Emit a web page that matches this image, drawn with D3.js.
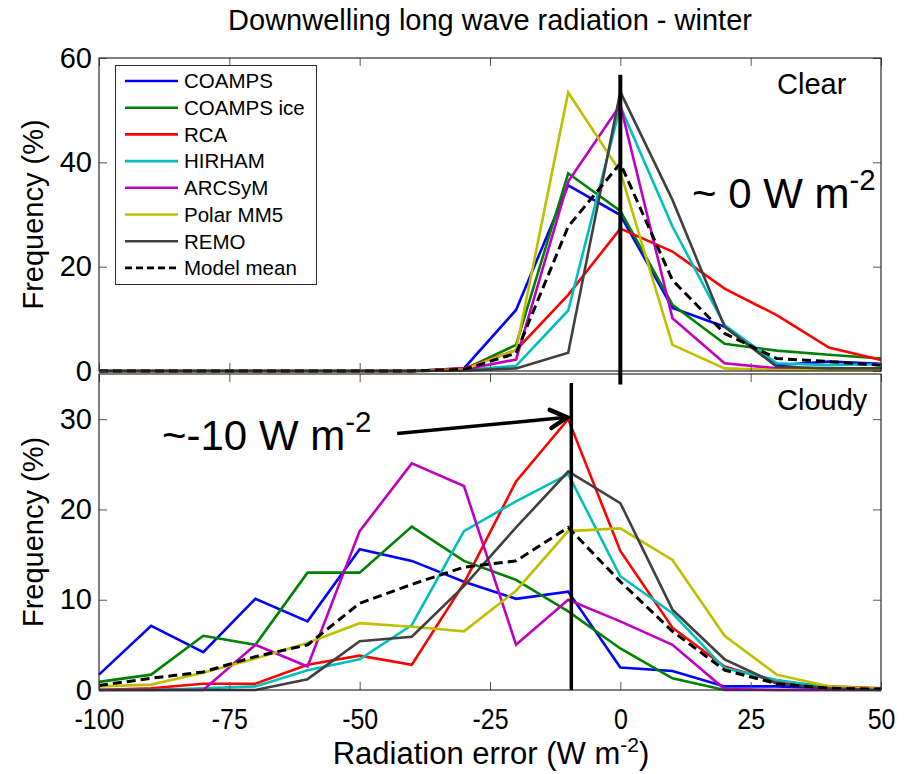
<!DOCTYPE html>
<html>
<head>
<meta charset="utf-8">
<script src="https://cdn.jsdelivr.net/npm/d3@7"></script>
<style>
  body { margin: 0; background: #fff; }
  text { font-family: "Liberation Sans", Arial, sans-serif; fill: #000; }
</style>
</head>
<body>
<svg id="chart" width="912" height="774"></svg>
<script>
// Bin centres of the radiation error (W m-2)
const errorBins = [-100, -90, -80, -70, -60, -50, -40, -30, -20, -10, 0, 10, 20, 30, 40, 50];

const modelNames = ["COAMPS", "COAMPS ice", "RCA", "HIRHAM", "ARCSyM", "Polar MM5", "REMO", "Model mean"];
const modelColors = ["#0000ff", "#008000", "#ff0000", "#00bfbf", "#bf00bf", "#bfbf00", "#404040", "#000000"];

// Clear sky frequencies (%)
const clearCOAMPS    = [0, 0, 0, 0, 0, 0, 0, 0.5, 11.7, 35.6, 29.9, 12.1, 8.5, 1.1, 1.8, 1.4];
const clearCOAMPSice = [0, 0, 0, 0, 0, 0, 0, 0.3, 5.0, 37.9, 30.7, 12.7, 5.2, 3.9, 3.1, 2.4];
const clearRCA       = [0, 0, 0, 0, 0, 0, 0, 0.5, 4.0, 14.6, 27.3, 22.9, 15.8, 10.7, 4.5, 2.1];
const clearHIRHAM    = [0, 0, 0, 0, 0, 0, 0, 0.2, 1.0, 11.6, 50.7, 27.7, 8.8, 1.5, 1.1, 1.3];
const clearARCSyM    = [0, 0, 0, 0, 0, 0, 0, 0.3, 2.2, 36.3, 51.0, 10.1, 1.5, 0.5, 0.3, 0.3];
const clearPolarMM5  = [0, 0, 0, 0, 0, 0, 0, 0.3, 4.0, 53.4, 38.2, 5.0, 0.5, 0.2, 0.2, 0.2];
const clearREMO      = [0, 0, 0, 0, 0, 0, 0, 0.1, 0.5, 3.5, 53.5, 32.8, 8.5, 0.8, 0.5, 0.5];
const clearMean      = [0, 0, 0, 0, 0, 0, 0, 0.3, 3.4, 27.7, 39.8, 17.4, 7.2, 2.4, 1.8, 1.1];

// Cloudy sky frequencies (%)
const cloudyCOAMPS    = [1.7, 7.1, 4.2, 10.1, 7.6, 15.6, 14.3, 12.0, 10.1, 10.9, 2.5, 2.1, 0.4, 0.4, 0.2, 0.1];
const cloudyCOAMPSice = [0.9, 1.7, 6.0, 5.0, 13.0, 13.0, 18.1, 14.3, 12.2, 8.7, 4.6, 1.3, 0, 0, 0, 0];
const cloudyRCA       = [0, 0.2, 0.7, 0.7, 2.8, 3.8, 2.8, 11.8, 23.1, 30.0, 15.4, 6.9, 2.6, 0.9, 0.4, 0.2];
const cloudyHIRHAM    = [0, 0, 0.2, 0.4, 2.2, 3.4, 7.2, 17.6, 20.9, 23.9, 12.6, 8.5, 2.4, 1.1, 0.3, 0.1];
const cloudyARCSyM    = [0, 0, 0, 5.0, 2.6, 17.6, 25.1, 22.6, 5.0, 10.0, 7.6, 5.0, 0.1, 0, 0, 0];
const cloudyPolarMM5  = [0.4, 0.6, 1.9, 3.5, 5.2, 7.4, 7.0, 6.5, 11.0, 17.6, 17.9, 14.4, 6.0, 1.7, 0.4, 0.1];
const cloudyREMO      = [0, 0, 0, 0, 1.2, 5.4, 5.9, 11.5, 18.0, 24.2, 20.7, 8.9, 3.4, 0.7, 0.2, 0];
const cloudyMean      = [0.5, 1.3, 2.0, 3.7, 5.0, 9.6, 11.7, 13.6, 14.3, 18.0, 12.0, 6.5, 2.2, 0.7, 0.2, 0.1];

// Axis ticks
const xTicks = [-100, -75, -50, -25, 0, 25, 50];
const clearYTicks = [0, 20, 40, 60];
const cloudyYTicks = [0, 10, 20, 30];

// Reference lines marking the peak of each distribution (W m-2)
const clearPeak = 0;
const cloudyPeak = -9.4;

const svg = d3.select("#chart");

const x = d3.scaleLinear().domain([-100, 50]).range([99, 881]);
const yClear = d3.scaleLinear().domain([0, 60]).range([371, 58]);
const yCloudy = d3.scaleLinear().domain([0, 35]).range([690, 374]);

const panels = [
  { y: yClear, ticks: clearYTicks, series: [clearCOAMPS, clearCOAMPSice, clearRCA, clearHIRHAM, clearARCSyM, clearPolarMM5, clearREMO, clearMean], label: "Clear", bottomLabels: false },
  { y: yCloudy, ticks: cloudyYTicks, series: [cloudyCOAMPS, cloudyCOAMPSice, cloudyRCA, cloudyHIRHAM, cloudyARCSyM, cloudyPolarMM5, cloudyREMO, cloudyMean], label: "Cloudy", bottomLabels: true }
];

const [x0, x1] = x.range();
const plainNumber = d => String(d);

panels.forEach(p => {
  const [yb, yt] = p.y.range();
  const g = svg.append("g");

  g.append("rect").attr("x", x0).attr("y", yt).attr("width", x1 - x0).attr("height", yb - yt)
    .attr("fill", "#fff");

  // data lines
  const line = d3.line().x(d => x(d[0])).y(d => p.y(d[1]));
  p.series.forEach((vals, i) => {
    g.append("path")
      .datum(errorBins.map((b, k) => [b, vals[k]]))
      .attr("d", line)
      .attr("fill", "none")
      .attr("stroke", modelColors[i])
      .attr("stroke-width", i === 7 ? 3 : 2.6)
      .attr("stroke-linejoin", "miter")
      .attr("stroke-dasharray", i === 7 ? "9,5" : null);
  });

  // axes with inward ticks
  const styleAxis = sel => {
    sel.select(".domain").remove();
    sel.selectAll(".tick line").attr("stroke", "#555").attr("stroke-width", 1);
    sel.selectAll("text").style("font-size", "29px").attr("fill", "#000");
  };
  g.append("g").attr("transform", `translate(${x0},0)`)
    .call(d3.axisLeft(p.y).tickValues(p.ticks).tickSize(-8).tickPadding(7).tickFormat(plainNumber))
    .call(styleAxis);
  g.append("g").attr("transform", `translate(${x1},0)`)
    .call(d3.axisRight(p.y).tickValues(p.ticks).tickSize(-8).tickFormat(""))
    .call(styleAxis);
  g.append("g").attr("transform", `translate(0,${yt})`)
    .call(d3.axisTop(x).tickValues(xTicks).tickSize(-8).tickFormat(""))
    .call(styleAxis);
  const bottomAxis = g.append("g").attr("transform", `translate(0,${yb})`)
    .call(d3.axisBottom(x).tickValues(xTicks).tickSize(-8).tickPadding(18)
      .tickFormat(p.bottomLabels ? plainNumber : ""))
    .call(styleAxis);
  // condensed x tick labels
  bottomAxis.selectAll(".tick text").attr("transform", "scale(0.86,1)");

  g.append("rect").attr("x", x0).attr("y", yt).attr("width", x1 - x0).attr("height", yb - yt)
    .attr("fill", "none").attr("stroke", "#2a2a2a").attr("stroke-width", 1.2);

  // panel label
  g.append("text").attr("x", 777).attr("y", yt + 36).style("font-size", "29px").text(p.label);

  // y axis title
  g.append("text")
    .attr("transform", `translate(43,${(yb + yt) / 2}) rotate(-90)`)
    .attr("text-anchor", "middle")
    .style("font-size", "29px")
    .text("Frequency (%)");
});

// peak markers
svg.append("line")
  .attr("x1", x(clearPeak)).attr("x2", x(clearPeak))
  .attr("y1", yClear(56.8)).attr("y2", yClear(-2.6))
  .attr("stroke", "#000").attr("stroke-width", 4);
svg.append("line")
  .attr("x1", x(cloudyPeak)).attr("x2", x(cloudyPeak))
  .attr("y1", yCloudy(34)).attr("y2", yCloudy(0))
  .attr("stroke", "#000").attr("stroke-width", 3.5);

// annotation text with superscripts
function annot(xp, yp, main, sup, size) {
  const t = svg.append("text").attr("x", xp).attr("y", yp).style("font-size", size + "px");
  t.append("tspan").text(main);
  t.append("tspan").attr("dy", -size * 0.42).style("font-size", (size * 0.7) + "px").text(sup);
  return t;
}
annot(692, 208, "~ 0 W m", "-2", 42);
annot(162, 450, "~-10 W m", "-2", 42);

// arrow to cloudy peak
const arrowStart = [x(-42.8), yCloudy(28.4)];
const arrowEnd = [x(-10.2), yCloudy(30.2)];
svg.append("line")
  .attr("x1", arrowStart[0]).attr("y1", arrowStart[1])
  .attr("x2", arrowEnd[0]).attr("y2", arrowEnd[1])
  .attr("stroke", "#000").attr("stroke-width", 3.5);
{
  const ang = Math.atan2(arrowEnd[1] - arrowStart[1], arrowEnd[0] - arrowStart[0]);
  const len = 19, spread = 0.5;
  const p1 = [arrowEnd[0] - len * Math.cos(ang - spread), arrowEnd[1] - len * Math.sin(ang - spread)];
  const p2 = [arrowEnd[0] - len * Math.cos(ang + spread), arrowEnd[1] - len * Math.sin(ang + spread)];
  svg.append("path")
    .attr("d", `M${p1[0]},${p1[1]}L${arrowEnd[0]},${arrowEnd[1]}L${p2[0]},${p2[1]}`)
    .attr("fill", "none").attr("stroke", "#000").attr("stroke-width", 4.5)
    .attr("stroke-linecap", "round").attr("stroke-linejoin", "miter");
}

// legend
const lg = svg.append("g");
lg.append("rect").attr("x", 115.5).attr("y", 65.5).attr("width", 201).attr("height", 219)
  .attr("fill", "#fff").attr("stroke", "#2a2a2a").attr("stroke-width", 1);
modelNames.forEach((name, i) => {
  const yy = 81 + i * 26.7;
  lg.append("line").attr("x1", 125).attr("x2", 178).attr("y1", yy).attr("y2", yy)
    .attr("stroke", modelColors[i]).attr("stroke-width", 2.6)
    .attr("stroke-dasharray", i === 7 ? "7,4" : null);
  lg.append("text").attr("x", 184).attr("y", yy).attr("dy", "0.36em")
    .style("font-size", "20.5px").text(name);
});

// title
svg.append("text").attr("x", 490).attr("y", 30).attr("text-anchor", "middle")
  .style("font-size", "29px").text("Downwelling long wave radiation - winter");

// x axis title
const xt = svg.append("text").attr("x", 491).attr("y", 764)
  .attr("text-anchor", "middle").style("font-size", "31px");
xt.append("tspan").text("Radiation error (W m");
xt.append("tspan").attr("dy", -12).style("font-size", "21px").text("-2");
xt.append("tspan").attr("dy", 12).text(")");
</script>
</body>
</html>
